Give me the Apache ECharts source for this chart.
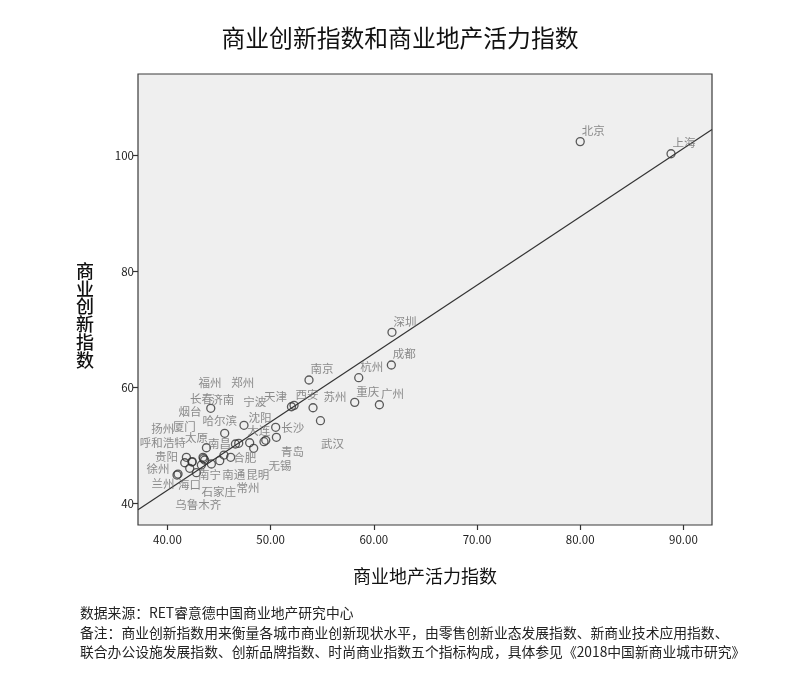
<!DOCTYPE html>
<html>
<head>
<meta charset="utf-8">
<script src="https://cdn.jsdelivr.net/npm/echarts@6/dist/echarts.min.js"></script>
<style>
html,body{margin:0;padding:0;background:#fff;}
#chart{width:800px;height:680px;}
</style>
</head>
<body>
<div id="chart"></div>
<script>
// ---- data ----
const cities = ['北京','上海','深圳','成都','杭州','南京','重庆','广州','天津','西安','苏州','武汉','长沙','青岛',
  '无锡','大连','合肥','昆明','宁波','沈阳','哈尔滨','济南','太原','贵阳','扬州','烟台','呼和浩特','福州','郑州',
  '乌鲁木齐','南宁','海口','徐州','兰州','石家庄','常州','南通','南昌','厦门','长春'];
// 商业地产活力指数 (x)
const vitality = [80.0, 88.8, 61.76, 61.7, 58.54, 53.72, 58.15, 60.54, 52.02, 52.27, 54.11, 54.83, 50.49, 50.56,
  49.36, 49.53, 47.97, 48.36, 46.91, 47.42, 45.55, 44.2, 43.78, 41.84, 41.68, 42.38, 42.16, 43.45, 43.61,
  43.29, 44.26, 42.81, 41.03, 40.93, 45.07, 45.48, 46.13, 46.59, 42.4, 43.5];
// 商业创新指数 (y)
const innovation = [102.4, 100.3, 69.5, 63.86, 61.67, 61.27, 57.42, 57.0, 56.66, 56.9, 56.49, 54.25, 53.11, 51.39,
  50.63, 50.87, 50.45, 49.49, 50.35, 53.46, 52.08, 56.39, 49.59, 47.94, 47.0, 47.12, 46.04, 47.94, 47.47,
  46.61, 46.78, 45.28, 45.05, 44.88, 47.35, 48.33, 47.94, 50.23, 47.2, 47.7];
const xTicks = [40, 50, 60, 70, 80, 90];
const yTicks = [40, 60, 80, 100];
// fitted line end points
const fitX = [37.15, 92.77];
const fitY = [38.9, 104.5];

const title = '商业创新指数和商业地产活力指数';
const xName = '商业地产活力指数';
const yName = '商业创新指数';
const notes = [
  '数据来源：RET睿意德中国商业地产研究中心',
  '备注：商业创新指数用来衡量各城市商业创新现状水平，由零售创新业态发展指数、新商业技术应用指数、',
  '联合办公设施发展指数、创新品牌指数、时尚商业指数五个指标构成，具体参见《2018中国新商业城市研究》'
];

// ---- label placement (pixel offsets of label centre from its point) ----
const defaultOffset = [13, -11];
const labelOffsets = {
  '天津': [-16, -10], '苏州': [22, -11], '武汉': [12, 23], '长沙': [17, 0], '青岛': [16, 14],
  '无锡': [16, 24], '大连': [-7, -10], '合肥': [-5, 15], '昆明': [4, 26], '宁波': [16, -42],
  '沈阳': [16, -8], '哈尔滨': [-5, -13], '济南': [12, -9], '太原': [-10, -10], '贵阳': [-20, -1],
  '扬州': [-22, -34], '烟台': [-2, -50], '呼和浩特': [-27, -26], '福州': [7, -75], '郑州': [38, -77],
  '乌鲁木齐': [-3, 40], '南宁': [-2, 11], '海口': [-7, 12], '徐州': [-20, -5], '兰州': [-14, 9],
  '石家庄': [-1, 31], '常州': [24, 33], '南通': [3, 17], '南昌': [-16, 0], '厦门': [-8, -35],
  '长春': [-2, -60]
};

const FONT = '"Noto Sans CJK SC", "Noto Sans", sans-serif';
const chart = echarts.init(document.getElementById('chart'), null, {renderer: 'canvas'});

const scatterData = cities.map((c, i) => ({
  name: c,
  value: [vitality[i], innovation[i]],
  label: {offset: labelOffsets[c] || defaultOffset}
}));

const option = {
  backgroundColor: '#ffffff',
  animation: false,
  textStyle: {fontFamily: FONT},
  grid: {
    left: 138, top: 74, width: 574, height: 451,
    show: true, backgroundColor: '#efefef', borderColor: '#3a3a3a', borderWidth: 1.2,
    containLabel: false
  },
  xAxis: {
    type: 'value', min: fitX[0], max: fitX[1],
    axisLine: {show: false},
    splitLine: {show: false},
    axisTick: {show: true, customValues: xTicks, length: 5, inside: false, lineStyle: {color: '#333', width: 1.2}},
    axisLabel: {customValues: xTicks, formatter: v => v.toFixed(2), color: '#222', fontSize: 11.5, margin: 9, fontFamily: FONT}
  },
  yAxis: {
    type: 'value', min: 36.26, max: 114.06,
    axisLine: {show: false},
    splitLine: {show: false},
    axisTick: {show: true, customValues: yTicks, length: 5, inside: false, lineStyle: {color: '#333', width: 1.2}},
    axisLabel: {customValues: yTicks, color: '#222', fontSize: 11.5, margin: 4, fontFamily: FONT}
  },
  series: [
    {
      type: 'line',
      data: fitX.map((x, i) => [x, fitY[i]]),
      symbol: 'none',
      lineStyle: {color: '#333', width: 1.2},
      silent: true,
      z: 2
    },
    {
      type: 'scatter',
      data: scatterData,
      symbol: 'circle',
      symbolSize: 8,
      itemStyle: {color: 'rgba(0,0,0,0)', borderColor: '#333', borderWidth: 1.3},
      label: {
        show: true, position: 'inside', formatter: '{b}',
        color: '#707070', fontSize: 11.5, fontFamily: FONT
      },
      z: 3
    }
  ],
  graphic: [
    {type: 'text', x: 400, y: 38, style: {text: title, fontSize: 23.8, fontFamily: FONT, fill: '#111', textAlign: 'center', textVerticalAlign: 'middle'}},
    {type: 'text', x: 425, y: 576, style: {text: xName, fontSize: 18, fontFamily: FONT, fill: '#111', textAlign: 'center', textVerticalAlign: 'middle'}},
    {type: 'text', x: 85, y: 262, style: {text: yName.split('').join('\n'), fontSize: 18, lineHeight: 17.8, fontFamily: FONT, fill: '#111', fontWeight: 500, textAlign: 'center', textVerticalAlign: 'top'}},
    {type: 'text', x: 80, y: 613, style: {text: notes[0], fontSize: 13.8, fontFamily: FONT, fill: '#222', textVerticalAlign: 'middle'}},
    {type: 'text', x: 80, y: 633, style: {text: notes[1], fontSize: 13.8, fontFamily: FONT, fill: '#222', textVerticalAlign: 'middle'}},
    {type: 'text', x: 80, y: 652, style: {text: notes[2], fontSize: 13.8, fontFamily: FONT, fill: '#222', textVerticalAlign: 'middle'}}
  ]
};
chart.setOption(option);
</script>
</body>
</html>
